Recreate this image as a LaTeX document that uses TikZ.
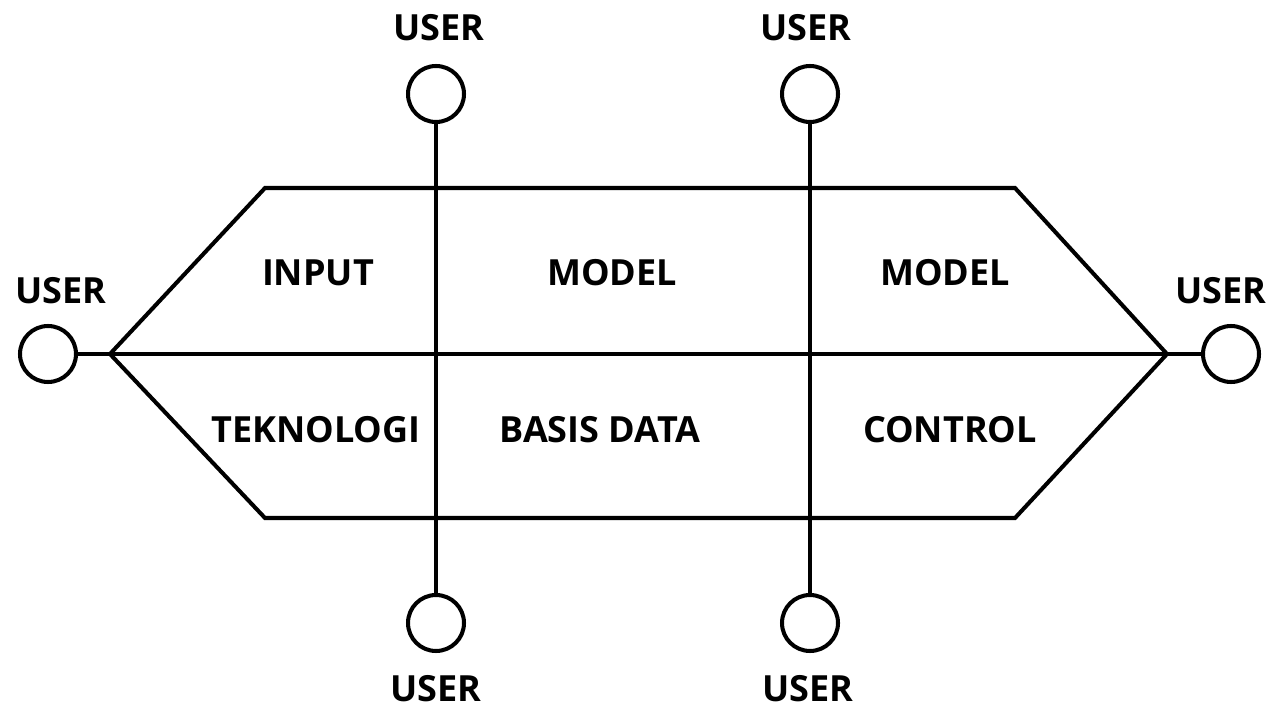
\documentclass[tikz,border=0pt]{standalone}
\usepackage{fontspec}
\setmainfont{Open Sans}
\usepackage{tikz}
\usetikzlibrary{positioning,calc}

\begin{document}
\begin{tikzpicture}[x=0.02cm, y=-0.02cm, line width=2.3pt,
    user/.style={draw, circle, minimum size=1.12cm, inner sep=0pt},
    lbl/.style={font=\fontsize{20.5}{24}\selectfont\bfseries}]
    \useasboundingbox (0,0) rectangle (1271,709);

    % users round the system
    \node[user] (uL) at (48,354) {};
    \node[user] (uR) at (1231,354) {};
    \node[user] (uT1) at (436,94) {};
    \node[user] (uT2) at (810,94) {};
    \node[user] (uB1) at (436,623) {};
    \node[user] (uB2) at (810,623) {};

    \node[lbl] (tL) at (61,291) {USER};
    \node[lbl] (tR) at (1221,291) {USER};
    \node[lbl] (tT1) at (439,28) {USER};
    \node[lbl] (tT2) at (806,28) {USER};
    \node[lbl] (tB1) at (436,689) {USER};
    \node[lbl] (tB2) at (808,689) {USER};

    % system outline
    \coordinate (hL) at (110,354);
    \coordinate (hR) at (1167,354);
    \draw[line join=miter] (hL) -- (265,188) -- (1015,188) -- (hR)
        -- (1015,518) -- (265,518) -- cycle;

    % cross lines
    \draw (uL) -- (uR);
    \draw (uT1) -- (uB1);
    \draw (uT2) -- (uB2);

    % parts
    \node[lbl] (pin) at (318,273) {INPUT};
    \node[lbl] (pmod1) at (612,273) {MODEL};
    \node[lbl] (pmod2) at (945,273) {MODEL};
    \node[lbl] (ptek) at (316,430) {TEKNOLOGI};
    \node[lbl] (pdb) at (600,430) {BASIS DATA};
    \node[lbl] (pctl) at (950,430) {CONTROL};
\end{tikzpicture}
\end{document}
